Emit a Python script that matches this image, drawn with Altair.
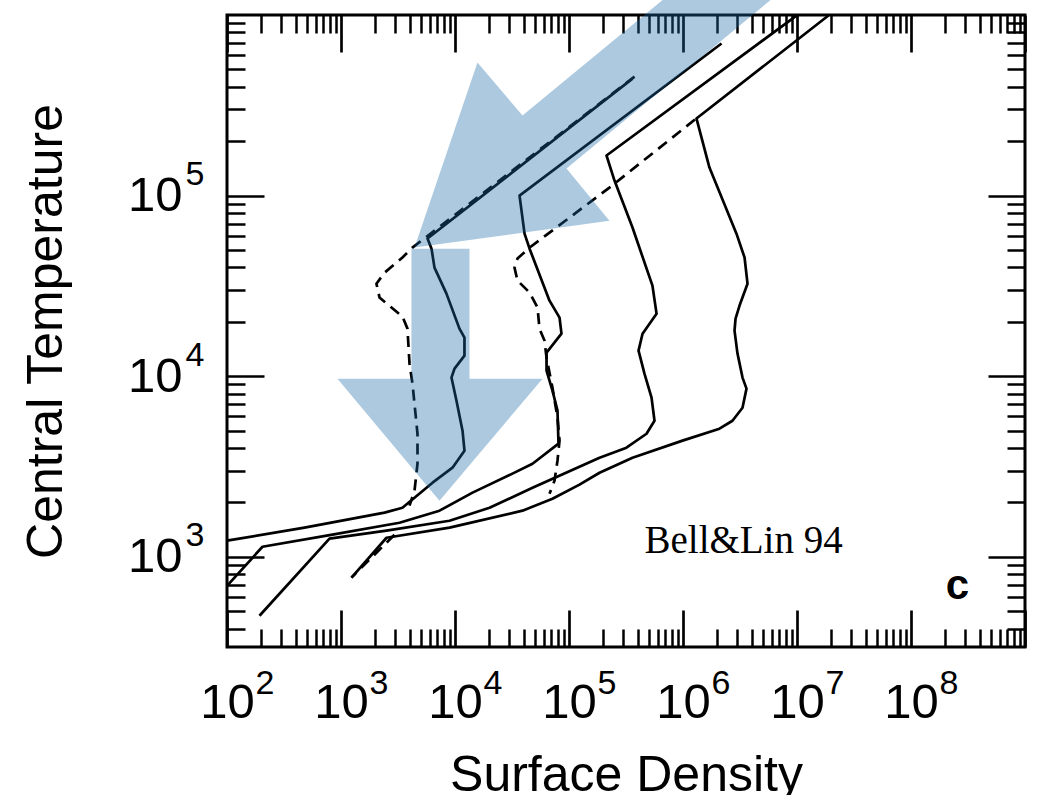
import altair as alt
import pandas as pd

# ------------------------------------------------------------------
# Values, stored as log10(Surface Density) and
# log10(Central Temperature).
# ------------------------------------------------------------------
s1_lsig = [2.000, 2.680, 3.382, 3.539, 3.803, 3.978, 4.083, 4.066, 4.013, 3.969,
           3.996, 4.083, 4.083, 4.039, 3.925, 3.820, 3.794, 3.759, 5.557]
s1_ltemp = [3.089, 3.161, 3.244, 3.271, 3.410, 3.493, 3.587, 3.698, 3.864, 3.992,
            4.042, 4.114, 4.213, 4.263, 4.457, 4.601, 4.706, 4.762, 5.648]

s2_lsig = [2.000, 2.311, 2.925, 3.513, 3.864, 4.154, 4.504, 4.680, 4.908, 4.899,
           4.855, 4.803, 4.803, 4.934, 4.917, 4.829, 4.654, 4.610, 4.566, 6.338]
s2_ltemp = [2.839, 3.055, 3.122, 3.188, 3.255, 3.355, 3.460, 3.515, 3.626, 3.809,
            3.920, 4.030, 4.130, 4.235, 4.324, 4.418, 4.706, 4.789, 5.000, 5.842]

s3_lsig = [2.285, 2.899, 3.399, 3.952, 4.303, 4.680, 5.268, 5.504, 5.680, 5.750,
           5.724, 5.662, 5.610, 5.645, 5.768, 5.732, 5.557, 5.399, 5.329, 6.996]
s3_ltemp = [2.673, 3.100, 3.144, 3.199, 3.271, 3.382, 3.548, 3.604, 3.681, 3.753,
            3.881, 4.014, 4.141, 4.235, 4.346, 4.501, 4.823, 5.083, 5.222, 5.997]

s4_lsig = [3.092, 3.399, 3.952, 4.592, 4.855, 5.092, 5.268, 5.557, 5.996, 6.320,
           6.434, 6.522, 6.557, 6.522, 6.478, 6.452, 6.461, 6.496, 6.566, 6.540,
           6.469, 6.232, 6.118, 7.276]
s4_ltemp = [2.884, 3.105, 3.161, 3.255, 3.321, 3.399, 3.465, 3.548, 3.643, 3.709,
            3.753, 3.825, 3.931, 3.992, 4.125, 4.252, 4.319, 4.391, 4.512, 4.657,
            4.789, 5.155, 5.427, 5.997]

d1_lsig = [5.575, 3.627, 3.539, 3.382, 3.311, 3.338, 3.443, 3.539, 3.583, 3.601,
           3.627, 3.671, 3.671, 3.645, 3.601]
d1_ltemp = [5.659, 4.712, 4.657, 4.573, 4.512, 4.435, 4.380, 4.330, 4.263, 4.069,
            3.958, 3.681, 3.515, 3.366, 3.283]

d2_lsig = [6.105, 5.355, 4.654, 4.548, 4.522, 4.548, 4.654, 4.724, 4.741, 4.785,
           4.803, 4.855, 4.899, 4.917, 4.899, 4.873, 4.829]
d2_ltemp = [5.421, 5.044, 4.712, 4.651, 4.601, 4.529, 4.463, 4.380, 4.263, 4.197,
            4.102, 3.936, 3.770, 3.643, 3.532, 3.421, 3.349]

d3_lsig = [3.469, 3.092]
d3_ltemp = [3.122, 2.884]

# annotation arrows (outline vertices, same log10 units)
arrow_diag_lsig = [3.645, 4.197, 4.592, 6.136, 7.083, 4.978, 5.355]
arrow_diag_ltemp = [4.712, 5.737, 5.443, 6.247, 6.247, 5.150, 4.861]
arrow_down_lsig = [3.618, 4.127, 4.127, 4.768, 3.864, 2.969, 3.618]
arrow_down_ltemp = [4.706, 4.706, 3.986, 3.986, 3.310, 3.986, 3.986]

# text annotations
note_text = ["Bell&Lin 94"]
note_lsig = [5.662]
note_ltemp = [3.022]
panel_text = ["c"]
panel_lsig = [8.408]
panel_ltemp = [2.767]

# axis ticks / labels
x_label_exps = [2, 3, 4, 5, 6, 7, 8]
x_major_exps = [2, 3, 4, 5, 6, 7, 8, 9]
y_label_exps = [3, 4, 5]

# ------------------------------------------------------------------
def table(series):
    rows = []
    for name, xs, ys in series:
        for i, (a, b) in enumerate(zip(xs, ys)):
            rows.append({"curve": name, "idx": i, "sigma": 10 ** a, "temp": 10 ** b})
    return pd.DataFrame(rows)


solid_df = table([("S1", s1_lsig, s1_ltemp), ("S2", s2_lsig, s2_ltemp),
                  ("S3", s3_lsig, s3_ltemp), ("S4", s4_lsig, s4_ltemp)])
dashed_df = table([("D1", d1_lsig, d1_ltemp), ("D2", d2_lsig, d2_ltemp),
                   ("D3", d3_lsig, d3_ltemp)])
diag_df = table([("diag", arrow_diag_lsig, arrow_diag_ltemp)])
down_df = table([("down", arrow_down_lsig, arrow_down_ltemp)])
note_df = pd.DataFrame({"label": note_text, "sigma": [10 ** v for v in note_lsig],
                        "temp": [10 ** v for v in note_ltemp]})
panel_df = pd.DataFrame({"label": panel_text, "sigma": [10 ** v for v in panel_lsig],
                         "temp": [10 ** v for v in panel_ltemp]})

Y_MIN = 10 ** 2.5
X_SCALE = alt.Scale(type="log", domain=[1e2, 1e9], nice=False)
Y_SCALE = alt.Scale(type="log", domain=[Y_MIN, 1e6], nice=False)

x_labels = [10.0 ** e for e in x_label_exps]
x_major = [10.0 ** e for e in x_major_exps]
x_minor = [k * 10.0 ** e for e in range(2, 9) for k in range(2, 10)]
y_labels = [10.0 ** e for e in y_label_exps]
y_major = [1e3, 1e4, 1e5]
y_minor = [k * 10.0 ** e for e in range(2, 6) for k in range(2, 10)
           if Y_MIN < k * 10.0 ** e < 1e6]

NARROW = "Liberation Sans Narrow, Liberation Sans, Arial, sans-serif"
SANS = "Liberation Sans, Arial, sans-serif"
EXP = "round(log(datum.value)/LN10) + ''"


def tick_axis(orient, values, size, width):
    return alt.Axis(orient=orient, values=values, labels=False, domain=False, grid=False,
                    ticks=True, tickSize={"expr": str(-size)}, tickWidth=width,
                    tickColor="black", title=None)


ax_x_base = alt.Axis(orient="bottom", values=x_labels, labelExpr="'10'", ticks=False,
                     domain=False, grid=False, labelFont=NARROW, labelFontSize=49,
                     labelColor="black", labelPadding=31, labelAlign="center",
                     labelBaseline="top", labelOverlap=False, labelFlush=False,
                     title="Surface Density", titleFont=SANS, titleFontSize=50,
                     titleFontWeight="normal", titleColor="black", titleX=399,
                     titleY=143, titleAlign="center", titleBaseline="alphabetic",
                     titleAngle=0)
ax_x_exp = alt.Axis(orient="bottom", values=x_labels, labelExpr=EXP, ticks=False,
                    domain=False, grid=False, labelFont=NARROW, labelFontSize=34,
                    labelColor="black", labelPadding=19, labelAlign="left",
                    labelOffset=28, labelBaseline="top", labelOverlap=False,
                    labelFlush=False, title=None)
ax_y_base = alt.Axis(orient="left", values=y_labels, labelExpr="'10'", ticks=False,
                     domain=False, grid=False, labelFont=NARROW, labelFontSize=49,
                     labelColor="black", labelPadding=45, labelAlign="right",
                     labelBaseline="middle", labelOverlap=False, labelFlush=False,
                     title="Central Temperature", titleFont=SANS, titleFontSize=50,
                     titleFontWeight="normal", titleColor="black", titleX=-166,
                     titleY=316, titleAngle=270, titleAlign="center",
                     titleBaseline="alphabetic")
ax_y_exp = alt.Axis(orient="left", values=y_labels, labelExpr=EXP, ticks=False,
                    domain=False, grid=False, labelFont=NARROW, labelFontSize=34,
                    labelColor="black", labelPadding=23, labelAlign="right",
                    labelBaseline="middle", labelOffset=-21, labelOverlap=False,
                    labelFlush=False, title=None)

ax_x_major_b = tick_axis("bottom", x_major, 37, 2.7)
ax_x_minor_b = tick_axis("bottom", x_minor, 18, 2.5)
ax_x_major_t = tick_axis("top", x_major, 37, 2.7)
ax_x_minor_t = tick_axis("top", x_minor, 18, 2.5)
ax_y_major_l = tick_axis("left", y_major, 37, 2.7)
ax_y_minor_l = tick_axis("left", y_minor, 18, 2.5)
ax_y_major_r = tick_axis("right", y_major, 37, 2.7)
ax_y_minor_r = tick_axis("right", y_minor, 18, 2.5)


def xy(xaxis, yaxis):
    return dict(x=alt.X("sigma:Q", scale=X_SCALE, axis=xaxis),
                y=alt.Y("temp:Q", scale=Y_SCALE, axis=yaxis))


solid = alt.Chart(solid_df).mark_line(color="black", strokeWidth=2.7,
                                      strokeJoin="round").encode(
    **xy(ax_x_base, ax_y_base), detail="curve:N", order="idx:Q")

dashed = alt.Chart(dashed_df).mark_line(color="black", strokeWidth=2.7,
                                        strokeDash=[11, 7]).encode(
    **xy(ax_x_exp, ax_y_exp), detail="curve:N", order="idx:Q")

ARROW = "#1a6aa6"
diag = alt.Chart(diag_df).mark_line(fill=ARROW, fillOpacity=0.36, strokeWidth=0,
                                    stroke=ARROW).encode(
    **xy(ax_x_major_b, ax_y_major_l), order="idx:Q")
down = alt.Chart(down_df).mark_line(fill=ARROW, fillOpacity=0.36, strokeWidth=0,
                                    stroke=ARROW).encode(
    **xy(ax_x_minor_b, ax_y_minor_l), order="idx:Q")

note = alt.Chart(note_df).mark_text(font="Liberation Serif, Times New Roman, serif",
                                    fontSize=39, align="left", baseline="alphabetic",
                                    color="black").encode(
    **xy(ax_x_major_t, ax_y_major_r), text="label:N")
panel = alt.Chart(panel_df).mark_text(font=SANS, fontSize=42, fontWeight="bold",
                                      align="center", baseline="alphabetic",
                                      color="black").encode(
    **xy(ax_x_minor_t, ax_y_minor_r), text="label:N")

chart = alt.layer(solid, dashed, diag, down, note, panel).resolve_axis(
    x="independent", y="independent"
).properties(
    width=798, height=632,
    autosize=alt.AutoSizeParams(type="none"),
    padding={"left": 227, "top": 15, "right": 17, "bottom": 148},
    background="white",
).configure_view(stroke="black", strokeWidth=3)

chart.save("out.html", embed_options={"renderer": "svg", "actions": False})
